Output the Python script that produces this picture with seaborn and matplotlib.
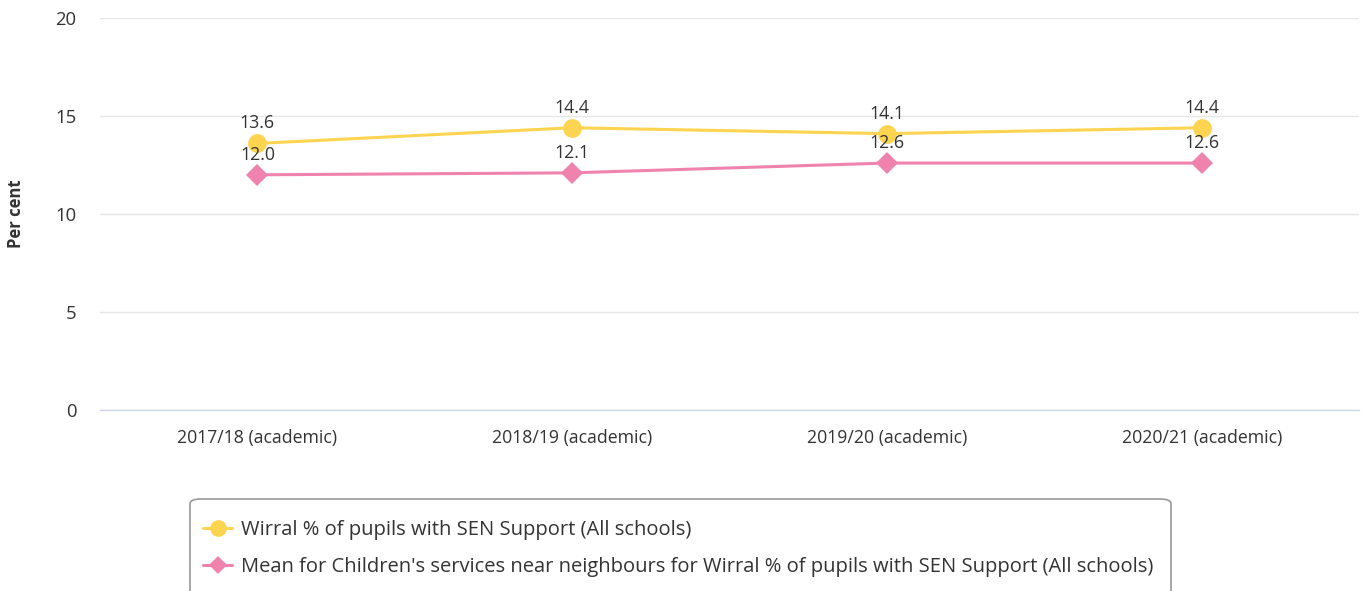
import matplotlib
matplotlib.use("Agg")
import matplotlib.pyplot as plt
from matplotlib.patches import FancyBboxPatch
from matplotlib.lines import Line2D
import seaborn as sns
import pandas as pd

years = ["2017/18 (academic)", "2018/19 (academic)", "2019/20 (academic)", "2020/21 (academic)"]
wirral = [13.6, 14.4, 14.1, 14.4]
neighbours = [12.0, 12.1, 12.6, 12.6]
series_names = ["Wirral % of pupils with SEN Support (All schools)",
                "Mean for Children's services near neighbours for Wirral % of pupils with SEN Support (All schools)"]
yticks = [0, 5, 10, 15, 20]

YELLOW = "#FDD44F"
PINK = "#EF83AD"

sns.set_theme(style="white")
plt.rcParams['font.family'] = ['Open Sans', 'DejaVu Sans']

fig = plt.figure(figsize=(13.65, 5.91), dpi=100)
AX_L, AX_W = 100, 1259
ax = fig.add_axes([AX_L/1365, 1-410/591, AX_W/1365, 392/591])

df = pd.DataFrame({
    "year": years * 2,
    "value": wirral + neighbours,
    "series": [series_names[0]] * 4 + [series_names[1]] * 4,
})

sns.lineplot(data=df[df.series == series_names[0]], x="year", y="value", ax=ax,
             color=YELLOW, linewidth=2.2, marker="o", markersize=13.5, markeredgewidth=0, zorder=3)
sns.lineplot(data=df[df.series == series_names[1]], x="year", y="value", ax=ax,
             color=PINK, linewidth=2.2, marker="D", markersize=11, markeredgewidth=0, zorder=3)

for i, v in enumerate(wirral):
    ax.annotate(f"{v:.1f}", (i, v), xytext=(0, 8), textcoords="offset points",
                ha="center", va="bottom", fontsize=12.8, color="#333333", zorder=5)
for i, v in enumerate(neighbours):
    ax.annotate(f"{v:.1f}", (i, v), xytext=(0, 8), textcoords="offset points",
                ha="center", va="bottom", fontsize=12.8, color="#333333", zorder=5)

ax.set_xlim(-0.5, 3.5)
ax.set_ylim(0, 20)
ax.set_yticks(yticks)
ax.set_yticklabels([str(t) for t in yticks])
ax.grid(axis="y", color="#e6e6e6", linewidth=1)
ax.set_axisbelow(True)
for s in ["top", "right", "left"]:
    ax.spines[s].set_visible(False)
ax.spines["bottom"].set_color("#ccd6eb")
ax.spines["bottom"].set_linewidth(1)
ax.tick_params(axis="y", length=0, pad=17, labelsize=13.3, labelcolor="#333333")
ax.tick_params(axis="x", length=0, pad=14, labelsize=12.7, labelcolor="#333333")
ax.set_xlabel("")
ax.set_ylabel("Per cent", fontsize=12, fontweight="bold", color="#333333")
ax.yaxis.set_label_coords((16 - AX_L)/AX_W, 0.5)
ax.yaxis.label.set_va("center")

# legend box
box = FancyBboxPatch((190/1365, -0.1), (1171-190)/1365, (1-499/591) + 0.1,
                     boxstyle="round,pad=0,rounding_size=0.008", transform=fig.transFigure,
                     facecolor="white", edgecolor="#999999", linewidth=1.2, zorder=1)
fig.patches.append(box)

handles = [Line2D([], [], color=YELLOW, linewidth=2.2, marker="o", markersize=12, markeredgewidth=0),
           Line2D([], [], color=PINK, linewidth=2.2, marker="D", markersize=9.5, markeredgewidth=0)]
fig.legend(handles, series_names, loc="upper left", bbox_to_anchor=(203/1365, 1-520/591),
           frameon=False, fontsize=14.5, handlelength=1.45, handletextpad=0.45,
           labelspacing=0.85, labelcolor="#333333", borderaxespad=0, borderpad=0)

fig.savefig("out.png", dpi=100)
